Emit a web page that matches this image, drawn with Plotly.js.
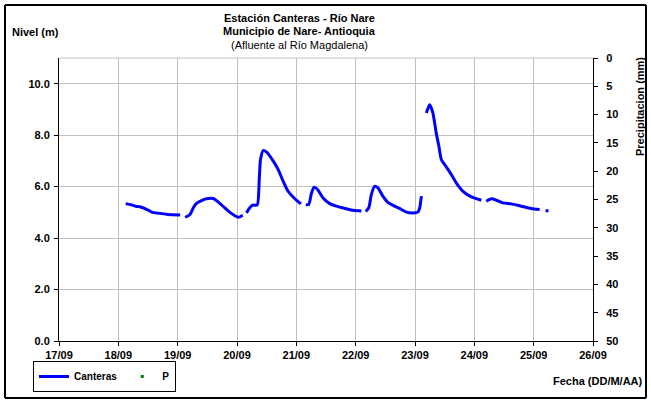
<!DOCTYPE html>
<html>
<head>
<meta charset="utf-8">
<script src="https://cdn.plot.ly/plotly-3.0.1.min.js"></script>
<style>
html,body{margin:0;padding:0;background:#fff;}
#chart{width:651px;height:401px;}
</style>
</head>
<body>
<div id="chart"></div>
<script>
// Nivel (m) - Canteras; null marks a gap in the record
var times = [
  "2011-09-18 03:00","2011-09-18 05:00","2011-09-18 07:00","2011-09-18 09:00","2011-09-18 11:00","2011-09-18 13:30","2011-09-18 17:00","2011-09-18 20:00","2011-09-19 01:00",
  "2011-09-19 02:00",
  "2011-09-19 03:00","2011-09-19 05:00","2011-09-19 06:20","2011-09-19 07:30","2011-09-19 09:40","2011-09-19 11:40","2011-09-19 14:20","2011-09-19 16:20","2011-09-19 19:00","2011-09-19 21:00","2011-09-19 23:00","2011-09-20 00:30","2011-09-20 02:20",
  "2011-09-20 03:00",
  "2011-09-20 03:50","2011-09-20 05:10","2011-09-20 06:20","2011-09-20 08:10","2011-09-20 09:00","2011-09-20 09:30","2011-09-20 10:35","2011-09-20 12:00","2011-09-20 14:40","2011-09-20 16:40","2011-09-20 18:40","2011-09-20 20:40","2011-09-20 23:25","2011-09-21 01:50",
  "2011-09-21 03:00",
  "2011-09-21 03:50","2011-09-21 05:00","2011-09-21 06:10","2011-09-21 07:10","2011-09-21 08:35","2011-09-21 10:50","2011-09-21 13:30","2011-09-21 16:10","2011-09-21 20:15","2011-09-21 23:00","2011-09-22 02:20",
  "2011-09-22 03:10",
  "2011-09-22 04:05","2011-09-22 05:20","2011-09-22 06:20","2011-09-22 07:40","2011-09-22 09:00","2011-09-22 11:00","2011-09-22 13:00","2011-09-22 15:50","2011-09-22 18:30","2011-09-22 20:30","2011-09-22 23:10","2011-09-23 01:10","2011-09-23 01:55","2011-09-23 02:35",
  "2011-09-23 03:30",
  "2011-09-23 04:35","2011-09-23 05:55","2011-09-23 07:15","2011-09-23 08:35","2011-09-23 09:40","2011-09-23 10:40","2011-09-23 12:40","2011-09-23 14:40","2011-09-23 16:40","2011-09-23 19:25","2011-09-23 22:50","2011-09-24 02:50",
  "2011-09-24 03:50",
  "2011-09-24 04:50","2011-09-24 06:55","2011-09-24 08:55","2011-09-24 11:30","2011-09-24 15:00","2011-09-24 19:00","2011-09-24 23:00","2011-09-25 02:25",
  "2011-09-25 03:30",
  "2011-09-25 04:50","2011-09-25 06:00"
];
var nivel = [
  5.34,5.30,5.24,5.21,5.14,5.01,4.96,4.92,4.90,
  null,
  4.81,4.92,5.18,5.34,5.46,5.53,5.54,5.41,5.18,5.01,4.88,4.81,4.89,
  null,
  4.98,5.18,5.28,5.29,6.27,7.05,7.40,7.34,6.99,6.66,6.21,5.82,5.53,5.33,
  null,
  5.30,5.30,5.76,5.98,5.89,5.56,5.34,5.24,5.14,5.08,5.05,
  null,
  5.03,5.18,5.69,6.01,5.95,5.63,5.39,5.24,5.11,5.01,4.98,5.01,5.18,5.63,
  null,
  8.86,9.18,8.86,8.09,7.57,7.05,6.77,6.47,6.15,5.82,5.60,5.47,
  null,
  5.43,5.53,5.47,5.37,5.33,5.24,5.15,5.11,
  null,
  5.07,5.05
];
// Precipitación (mm) - no values are drawn in the chart
var pTimes = ["2011-09-18 00:00"];
var pValues = [null];

var xTickLabels = ["17/09","18/09","19/09","20/09","21/09","22/09","23/09","24/09","25/09","26/09"];
var xTickVals = ["2011-09-17","2011-09-18","2011-09-19","2011-09-20","2011-09-21","2011-09-22","2011-09-23","2011-09-24","2011-09-25","2011-09-26"];
var yTickVals = [0, 2, 4, 6, 8, 10];

var FONT = "Liberation Sans, Arial, sans-serif";
var GRID = "#c0c0c0";
var W = 651, H = 401, L = 59, R = 58, T = 58, B = 60;
var pw = W - L - R, ph = H - T - B;
function px(x){ return (x - L) / pw; }
function py(y){ return (H - B - y) / ph; }

var traces = [
  {
    x: times, y: nivel, name: "Canteras", type: "scatter", mode: "lines",
    line: {color: "#0000ff", width: 3, shape: "spline", smoothing: 0.6},
    connectgaps: false, yaxis: "y"
  },
  {
    x: pTimes, y: pValues, name: "P", type: "scatter", mode: "markers",
    marker: {color: "#008000", size: 3, symbol: "square"},
    yaxis: "y2"
  }
];

// outer frame drawn as four separate lines
var fx0 = px(5), fx1 = px(646), fy0 = py(398), fy1 = py(5);
function frameLine(a, b, c, d){
  return {type: "line", xref: "paper", yref: "paper", x0: a, y0: b, x1: c, y1: d,
          line: {color: "#000", width: 2}};
}

var layout = {
  width: W, height: H,
  margin: {l: L, r: R, t: T, b: B, pad: 0, autoexpand: false},
  paper_bgcolor: "#ffffff", plot_bgcolor: "rgba(0,0,0,0)",
  font: {family: FONT, size: 11, color: "#000", weight: "bold"},
  showlegend: true,
  legend: {
    orientation: "h", x: px(33), y: py(392), xanchor: "left", yanchor: "bottom",
    bordercolor: "#000", borderwidth: 1, bgcolor: "#fff",
    font: {family: FONT, size: 10, color: "#000", weight: "bold"},
    itemwidth: 30, tracegroupgap: 0
  },
  xaxis: {
    type: "date",
    range: ["2011-09-17", "2011-09-26"],
    tickvals: xTickVals, ticktext: xTickLabels,
    showgrid: true, gridcolor: GRID, gridwidth: 1,
    showline: true, linecolor: "#000", linewidth: 1,
    ticks: "outside", ticklen: 4, tickcolor: "#000",
    tickfont: {family: FONT, size: 11, weight: "bold"},
    zeroline: false, mirror: false, layer: "below traces"
  },
  yaxis: {
    range: [0, 11], tickvals: yTickVals, tickformat: ".1f",
    showgrid: true, gridcolor: GRID, gridwidth: 1,
    showline: true, linecolor: "#000", linewidth: 1,
    ticks: "outside", ticklen: 4, tickcolor: "#000",
    tickfont: {family: FONT, size: 11, weight: "bold"},
    zeroline: false, ticklabelstandoff: 2
  },
  yaxis2: {
    overlaying: "y", side: "right",
    range: [50, 0], dtick: 5, tick0: 0,
    showgrid: false, showline: true, linecolor: "#000", linewidth: 1,
    ticks: "outside", ticklen: 4, tickcolor: "#000",
    tickfont: {family: FONT, size: 11, weight: "bold"},
    zeroline: false, ticklabelstandoff: 6
  },
  shapes: [
    {type: "line", xref: "paper", yref: "paper", x0: 0, x1: 1, y0: 1, y1: 1,
     line: {color: GRID, width: 1}},
    frameLine(fx0, fy0, fx1, fy0),
    frameLine(fx0, fy1, fx1, fy1),
    frameLine(fx0, fy0, fx0, fy1),
    frameLine(fx1, fy0, fx1, fy1)
  ],
  annotations: [
    {text: "Estación Canteras - Río Nare", xref: "paper", yref: "paper",
     x: px(299), y: py(18), xanchor: "center", yanchor: "middle", showarrow: false,
     font: {family: FONT, size: 11, weight: "bold"}},
    {text: "Municipio de Nare- Antioquia", xref: "paper", yref: "paper",
     x: px(299), y: py(31), xanchor: "center", yanchor: "middle", showarrow: false,
     font: {family: FONT, size: 11, weight: "bold"}},
    {text: "(Afluente al Río Magdalena)", xref: "paper", yref: "paper",
     x: px(299), y: py(45), xanchor: "center", yanchor: "middle", showarrow: false,
     font: {family: FONT, size: 11, weight: "normal"}},
    {text: "Nivel (m)", xref: "paper", yref: "paper",
     x: px(10), y: py(32), xanchor: "left", yanchor: "middle", showarrow: false,
     font: {family: FONT, size: 11, weight: "bold"}},
    {text: "Precipitacion (mm)", xref: "paper", yref: "paper", textangle: -90,
     x: px(640), y: py(107), xanchor: "center", yanchor: "middle", showarrow: false,
     font: {family: FONT, size: 11, weight: "bold"}},
    {text: "Fecha (DD/M/AA)", xref: "paper", yref: "paper",
     x: px(645), y: py(381), xanchor: "right", yanchor: "middle", showarrow: false,
     font: {family: FONT, size: 11, weight: "bold"}}
  ]
};

Plotly.newPlot("chart", traces, layout, {displayModeBar: false, staticPlot: true});
</script>
</body>
</html>
